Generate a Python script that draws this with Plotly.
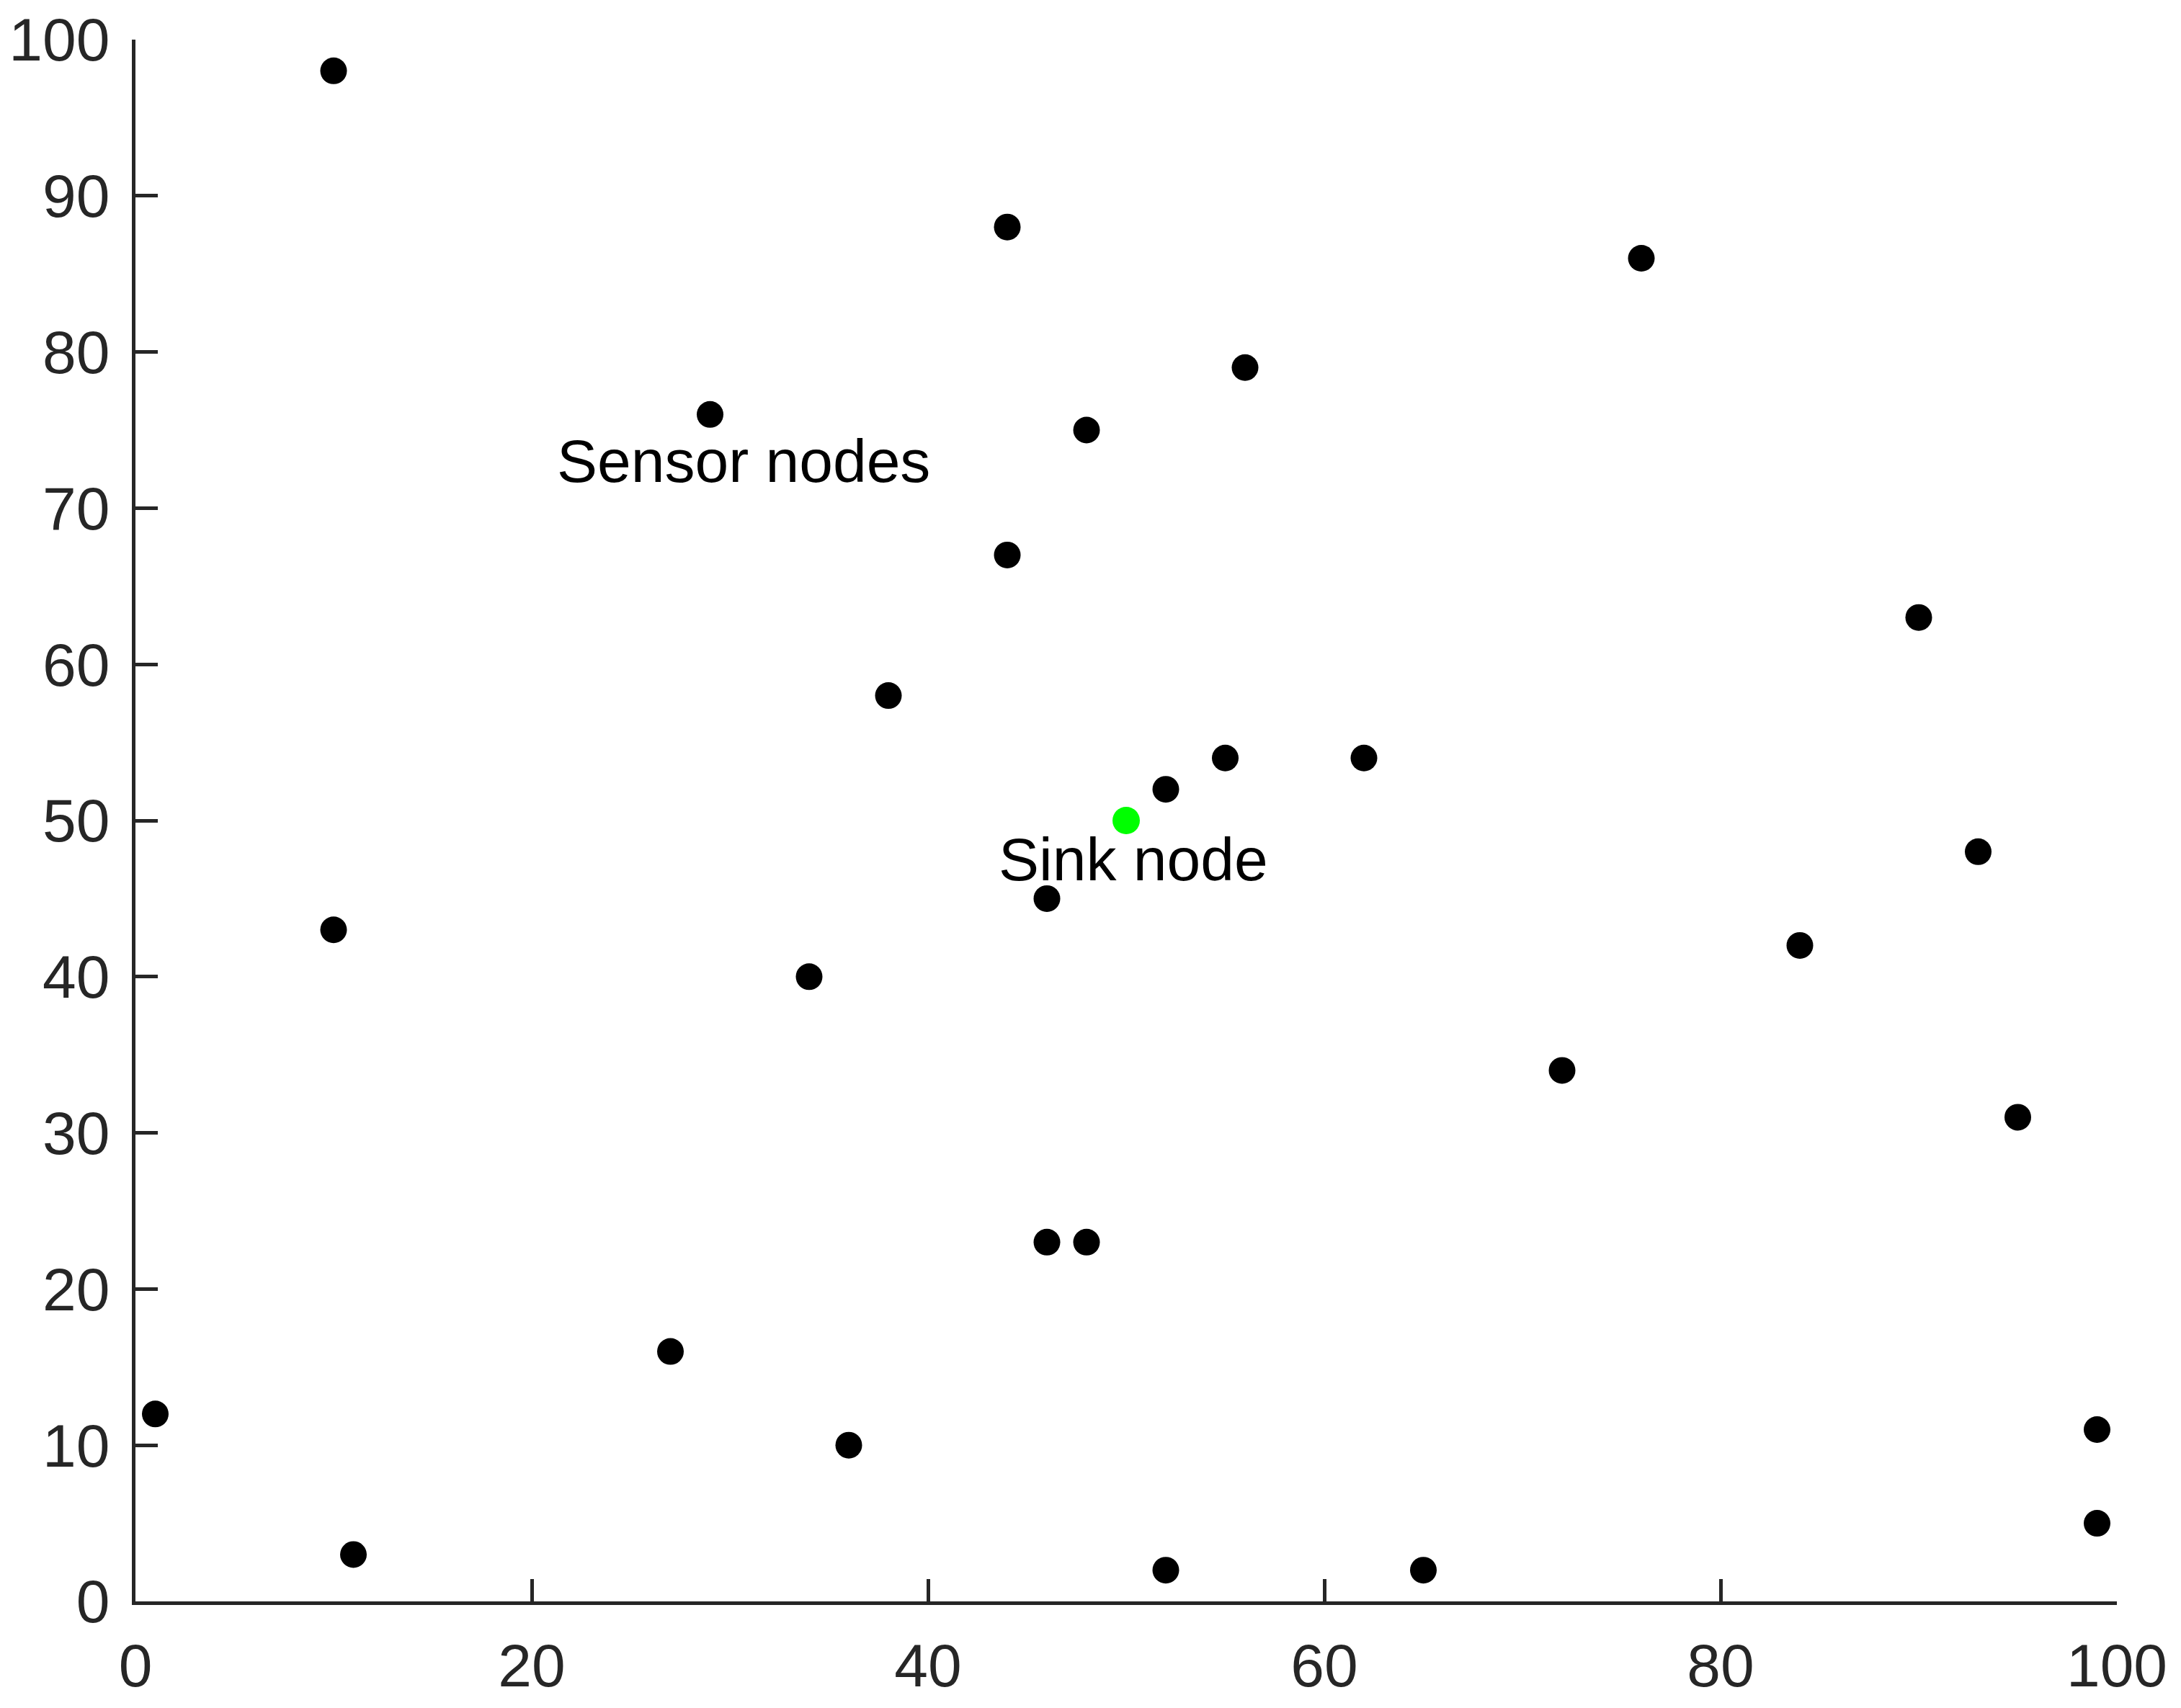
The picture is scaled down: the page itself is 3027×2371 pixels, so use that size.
import plotly.graph_objects as go

# sensor node coordinates
sensor_x = [10, 44, 76, 56, 29, 48, 44, 90, 38, 55, 62, 52, 93, 46, 10,
            84, 34, 72, 95, 46, 48, 27, 1, 99, 36, 99, 11, 52, 65]
sensor_y = [98, 88, 86, 79, 76, 75, 67, 63, 58, 54, 54, 52, 48, 45, 43,
            42, 40, 34, 31, 23, 23, 16, 12, 11, 10, 5, 3, 2, 2]

# sink node
sink_x = [50]
sink_y = [50]

x_ticks = [0, 20, 40, 60, 80, 100]
y_ticks = [0, 10, 20, 30, 40, 50, 60, 70, 80, 90, 100]

axis_color = '#262626'
font_name = 'Liberation Sans, Arial, Helvetica, sans-serif'

fig = go.Figure()
fig.add_trace(go.Scatter(
    x=sensor_x,
    y=sensor_y,
    mode='markers',
    name='Sensor nodes',
    marker=dict(size=37, color='black', line=dict(width=0)),
))
fig.add_trace(go.Scatter(
    x=sink_x,
    y=sink_y,
    mode='markers',
    name='Sink node',
    marker=dict(size=38, color='#00ff00', line=dict(width=0)),
))

fig.add_annotation(x=21.2, y=73, text='Sensor nodes', showarrow=False,
                   xanchor='left', yanchor='middle',
                   font=dict(family=font_name, size=84, color='black'))
fig.add_annotation(x=43.5, y=47.5, text='Sink node', showarrow=False,
                   xanchor='left', yanchor='middle',
                   font=dict(family=font_name, size=84, color='black'))

axis_common = dict(
    showgrid=False,
    zeroline=False,
    showline=True,
    linecolor=axis_color,
    linewidth=4.5,
    ticks='inside',
    ticklen=31,
    tickwidth=4.5,
    tickcolor=axis_color,
    tickfont=dict(family=font_name, size=84, color=axis_color),
    mirror=False,
    automargin=False,
)

fig.update_xaxes(range=[0, 100], tickvals=x_ticks, ticklabelstandoff=12,
                 **axis_common)
fig.update_yaxes(range=[0, 100], tickvals=y_ticks, ticklabelstandoff=14,
                 **axis_common)

# page body has an 8px margin, so the figure is 8px smaller each way
fig.update_layout(
    width=3019,
    height=2363,
    margin=dict(l=180, r=89, t=47, b=148, pad=0),
    plot_bgcolor='white',
    paper_bgcolor='white',
    showlegend=False,
)

fig.write_html("out.html")
